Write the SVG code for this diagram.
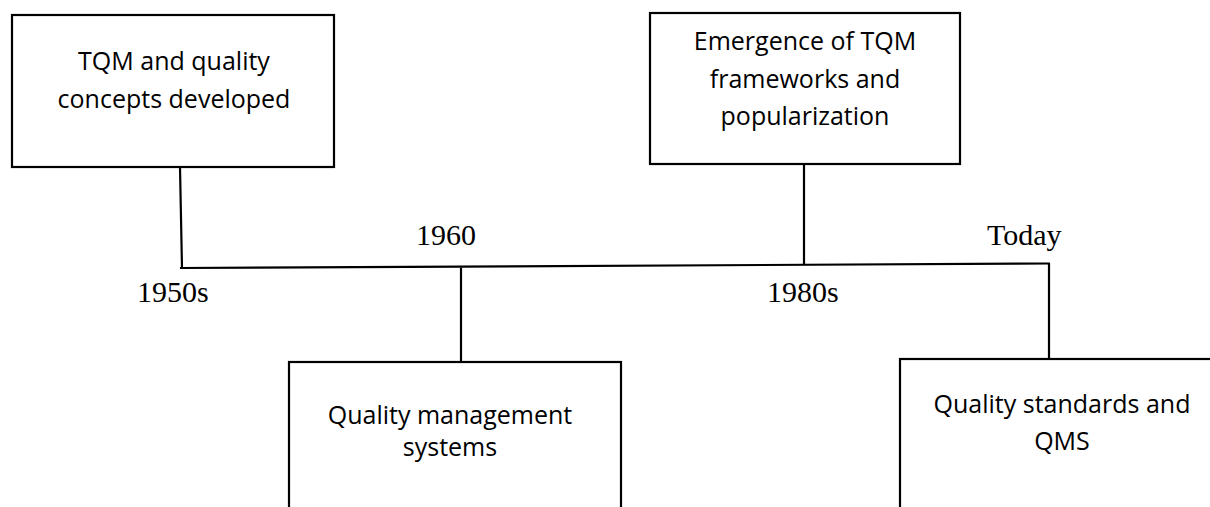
<svg xmlns="http://www.w3.org/2000/svg" width="1210" height="507" viewBox="0 0 1210 507">
<style>
.box{fill:#fff;stroke:#000;stroke-width:2.2}
.ln{stroke:#000;stroke-width:2.2;fill:none}
.bt{font-family:"Open Sans","Noto Sans",sans-serif;font-size:25px;text-anchor:middle;fill:#000}
.yr{font-family:"Liberation Serif","Times New Roman",serif;font-size:30px;fill:#000}
</style>
<rect width="1210" height="507" fill="#fff"/>
<g id="connectors">
<line class="ln" x1="180" y1="167" x2="182" y2="268"/>
<line class="ln" x1="180" y1="268" x2="1050" y2="263.5"/>
<line class="ln" x1="461" y1="267.5" x2="461" y2="362"/>
<line class="ln" x1="804" y1="164" x2="804" y2="265"/>
<line class="ln" x1="1049" y1="263.5" x2="1049" y2="359"/>
</g>
<g id="node-1950s">
<rect class="box" x="12" y="15" width="322" height="152"/>
<text class="bt" x="174" y="70">TQM and quality</text>
<text class="bt" x="174" y="108">concepts developed</text>
<text class="yr" x="137" y="302">1950s</text>
</g>
<g id="node-1960">
<rect class="box" x="289" y="362" width="332" height="160"/>
<text class="bt" x="450" y="424">Quality management</text>
<text class="bt" x="450" y="456">systems</text>
<text class="yr" x="416" y="245">1960</text>
</g>
<g id="node-1980s">
<rect class="box" x="650" y="13" width="310" height="151"/>
<text class="bt" x="805" y="50">Emergence of TQM</text>
<text class="bt" x="805" y="88">frameworks and</text>
<text class="bt" x="805" y="125">popularization</text>
<text class="yr" x="767" y="302">1980s</text>
</g>
<g id="node-today">
<rect class="box" x="900" y="359" width="330" height="160"/>
<text class="bt" x="1062" y="413">Quality standards and</text>
<text class="bt" x="1062" y="450">QMS</text>
<text class="yr" x="987" y="245">Today</text>
</g>
</svg>
